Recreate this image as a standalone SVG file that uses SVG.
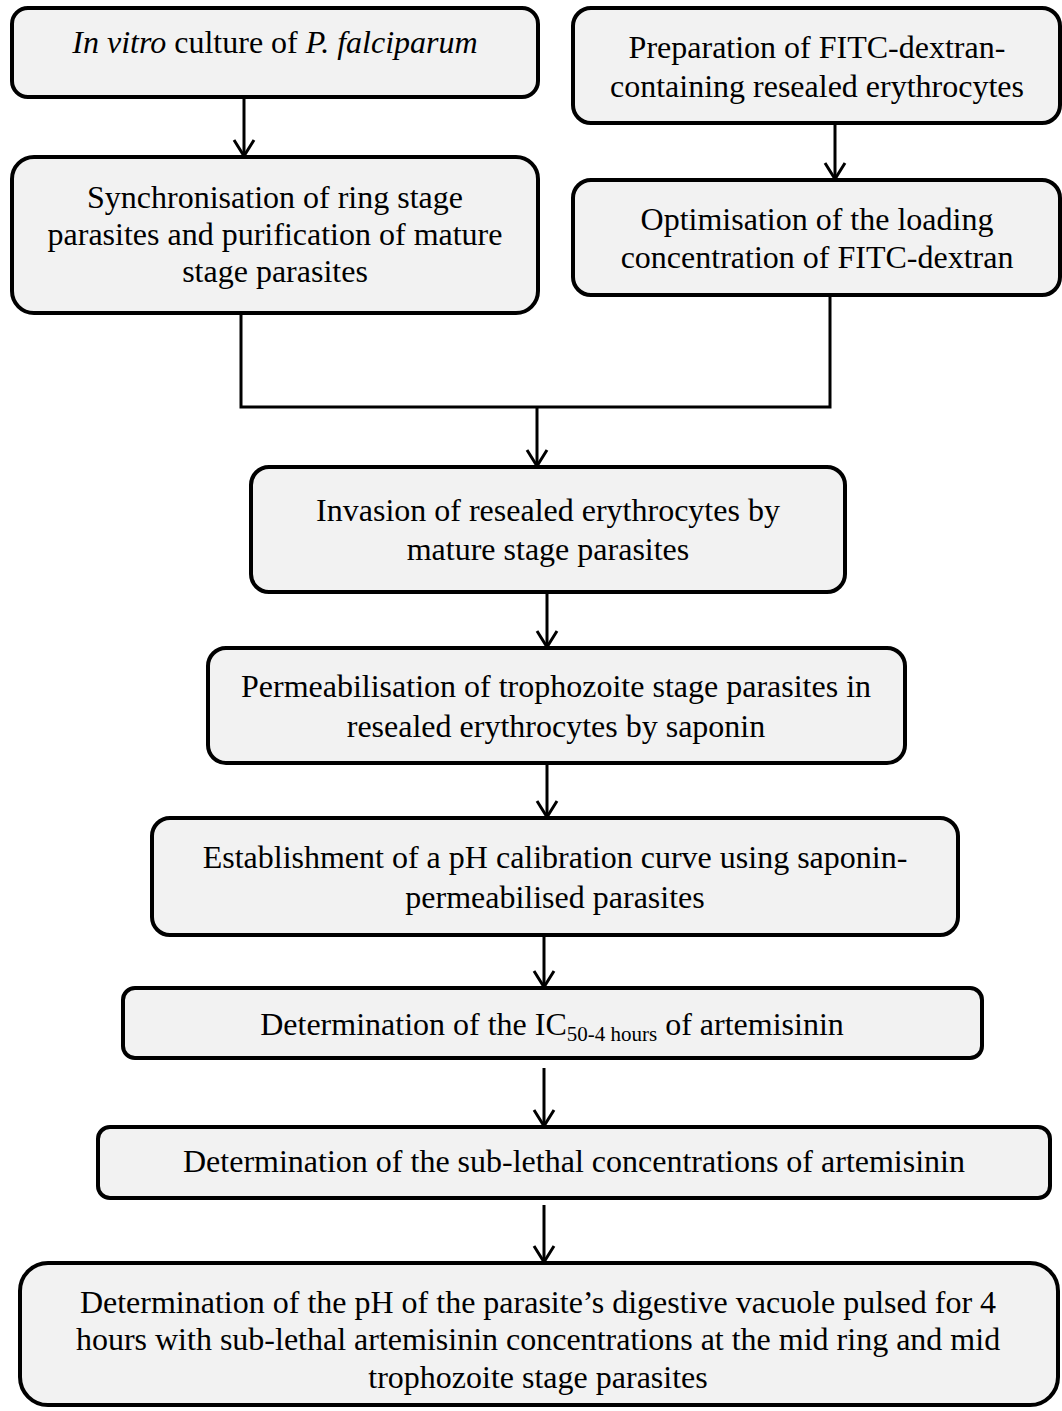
<svg xmlns="http://www.w3.org/2000/svg" width="1062" height="1411" viewBox="0 0 1062 1411">
<style>
.box{fill:#f2f2f2;stroke:#000;stroke-width:4}
.t{font-family:"Liberation Serif","Times New Roman",serif;font-size:32px;fill:#000;text-anchor:middle}
.c{fill:none;stroke:#000;stroke-width:3}
.i{font-style:italic}
</style>
<defs>
<marker id="ah" viewBox="-2 -2 20 24" refX="15" refY="10" markerWidth="20" markerHeight="24" markerUnits="userSpaceOnUse" orient="auto">
<path d="M0,0 L16,10 L0,20" fill="none" stroke="#000" stroke-width="3"/>
</marker>
</defs>
<rect width="1062" height="1411" fill="#fff"/>
<g id="connectors">
<line class="c" x1="244" y1="97" x2="244" y2="155" marker-end="url(#ah)"/>
<line class="c" x1="835" y1="123" x2="835" y2="178" marker-end="url(#ah)"/>
<polyline class="c" points="241,313 241,407 830,407 830,295"/>
<line class="c" x1="537" y1="407" x2="537" y2="465" marker-end="url(#ah)"/>
<line class="c" x1="547" y1="592" x2="547" y2="646" marker-end="url(#ah)"/>
<line class="c" x1="547" y1="763" x2="547" y2="816" marker-end="url(#ah)"/>
<line class="c" x1="544" y1="935" x2="544" y2="986" marker-end="url(#ah)"/>
<line class="c" x1="544" y1="1068" x2="544" y2="1125" marker-end="url(#ah)"/>
<line class="c" x1="544" y1="1205" x2="544" y2="1261" marker-end="url(#ah)"/>
</g>
<g id="n1">
<rect class="box" x="12" y="8" width="526" height="89" rx="16"/>
<text class="t" x="275" y="53"><tspan class="i">In vitro</tspan> culture of <tspan class="i">P. falciparum</tspan></text>
</g>
<g id="n2">
<rect class="box" x="12" y="157" width="526" height="156" rx="22"/>
<text class="t" x="275" y="208">Synchronisation of ring stage</text>
<text class="t" x="275" y="245">parasites and purification of mature</text>
<text class="t" x="275" y="282">stage parasites</text>
</g>
<g id="n3">
<rect class="box" x="573" y="8" width="487" height="115" rx="18"/>
<text class="t" x="817" y="58">Preparation of FITC-dextran-</text>
<text class="t" x="817" y="97">containing resealed erythrocytes</text>
</g>
<g id="n4">
<rect class="box" x="573" y="180" width="487" height="115" rx="18"/>
<text class="t" x="817" y="230">Optimisation of the loading</text>
<text class="t" x="817" y="268">concentration of FITC-dextran</text>
</g>
<g id="n5">
<rect class="box" x="251" y="467" width="594" height="125" rx="18"/>
<text class="t" x="548" y="521">Invasion of resealed erythrocytes by</text>
<text class="t" x="548" y="560">mature stage parasites</text>
</g>
<g id="n6">
<rect class="box" x="208" y="648" width="697" height="115" rx="18"/>
<text class="t" x="556" y="697">Permeabilisation of trophozoite stage parasites in</text>
<text class="t" x="556" y="737">resealed erythrocytes by saponin</text>
</g>
<g id="n7">
<rect class="box" x="152" y="818" width="806" height="117" rx="18"/>
<text class="t" x="555" y="868">Establishment of a pH calibration curve using saponin-</text>
<text class="t" x="555" y="908">permeabilised parasites</text>
</g>
<g id="n8">
<rect class="box" x="123" y="988" width="859" height="70" rx="12"/>
<text class="t" x="552" y="1035">Determination of the IC<tspan font-size="21" dy="6">50-4 hours</tspan><tspan dy="-6"> of artemisinin</tspan></text>
</g>
<g id="n9">
<rect class="box" x="98" y="1127" width="952" height="71" rx="12"/>
<text class="t" x="574" y="1172">Determination of the sub-lethal concentrations of artemisinin</text>
</g>
<g id="n10">
<rect class="box" x="20" y="1263" width="1038" height="142" rx="28"/>
<text class="t" x="538" y="1313">Determination of the pH of the parasite’s digestive vacuole pulsed for 4</text>
<text class="t" x="538" y="1350">hours with sub-lethal artemisinin concentrations at the mid ring and mid</text>
<text class="t" x="538" y="1388">trophozoite stage parasites</text>
</g>
</svg>
